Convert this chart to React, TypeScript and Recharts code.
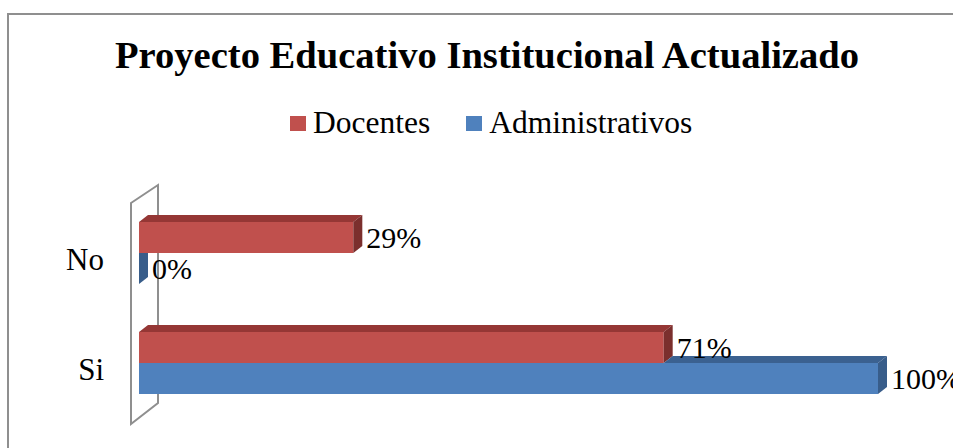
import React from "react";
import { BarChart, Bar, XAxis, YAxis, LabelList } from "recharts";

// values
const CATEGORIES = ["No", "Si"];
const DOCENTES = [29, 71];
const ADMINISTRATIVOS = [0, 100];
const X_TICKS = [0, 100];

const SERIES = [
  { key: "docentes", name: "Docentes", color: "#C0504D", top: "#953735", side: "#7B2F2D" },
  { key: "administrativos", name: "Administrativos", color: "#4F81BD", top: "#3B6190", side: "#385D8A" },
];

const data = CATEGORIES.map((cat, i) => ({
  cat,
  docentes: DOCENTES[i],
  administrativos: ADMINISTRATIVOS[i],
}));

const W = 953;
const H = 448;
const MARGIN = { top: 198, right: 75, bottom: 30, left: 39 };
const Y_W = 100;
const PLOT_LEFT = MARGIN.left + Y_W;
const PLOT_W = W - PLOT_LEFT - MARGIN.right;
const PLOT_BOTTOM = H - MARGIN.bottom;
const DX = 9;
const DY = 7;
const FONT = '"Liberation Serif", "Times New Roman", serif';
const GRAY = "#8f8f8f";

function Bar3D(props: any, s: any, coverKey?: string) {
  const { x, y, width, height, payload } = props;
  const value = payload[s.key];
  const ppu = PLOT_W / X_TICKS[1];
  const coverVal = coverKey ? payload[coverKey] : -1;
  const covered = coverKey ? coverVal >= value : false;
  const topStart = coverKey ? Math.max(x, x + coverVal * ppu) : x;
  const r = x + width;
  return (
    <g>
      <rect x={x} y={y} width={width} height={height} fill={s.color} />
      {topStart < r && (
        <polygon
          points={`${topStart},${y} ${topStart + DX},${y - DY} ${r + DX},${y - DY} ${r},${y}`}
          fill={s.top}
        />
      )}
      <polygon
        points={`${r},${y} ${r + DX},${covered ? y : y - DY} ${r + DX},${y + height - DY} ${r},${y + height}`}
        fill={s.side}
      />
    </g>
  );
}

function CatTick(props: any) {
  const { x, y, payload } = props;
  return (
    <text x={x} y={y + 17} textAnchor="end" fontSize={31} fontFamily={FONT} fill="#000">
      {payload.value}
    </text>
  );
}

export default function App() {
  const wallFront = PLOT_LEFT - 8;
  const wallBack = PLOT_LEFT + 19;
  return (
    <div
      style={{
        position: "absolute",
        left: 0,
        top: 0,
        width: W,
        height: H,
        overflow: "hidden",
        background: "#fff",
        fontFamily: FONT,
      }}
    >
      <svg width={W} height={H} style={{ position: "absolute", left: 0, top: 0 }}>
        <rect x={8} y={14} width={1100} height={600} fill="none" stroke={GRAY} strokeWidth={2} />
        <text x={487} y={68} textAnchor="middle" fontSize={38.6} fontWeight="bold" fontFamily={FONT}>
          Proyecto Educativo Institucional Actualizado
        </text>
        <polygon
          points={`${wallFront},${MARGIN.top + 5} ${wallBack},${MARGIN.top - 13} ${wallBack},${PLOT_BOTTOM - 15} ${wallFront},${PLOT_BOTTOM + 6}`}
          fill="none"
          stroke={GRAY}
          strokeWidth={2}
        />
      </svg>

      <div
        style={{
          position: "absolute",
          left: 290,
          top: 107,
          display: "flex",
          alignItems: "center",
          height: 32,
          fontSize: 31.5,
          lineHeight: "32px",
        }}
      >
        {SERIES.map((s) => (
          <div key={s.key} style={{ display: "flex", alignItems: "center", marginRight: 36 }}>
            <span style={{ width: 16, height: 15, background: s.color, marginRight: 7 }} />
            <span>{s.name}</span>
          </div>
        ))}
      </div>

      <div style={{ position: "absolute", left: 0, top: 0 }}>
        <BarChart
          width={W}
          height={H}
          data={data}
          layout="vertical"
          margin={MARGIN}
          barSize={31}
          barGap={0}
        >
          <XAxis type="number" domain={[X_TICKS[0], X_TICKS[1]]} hide />
          <YAxis
            type="category"
            dataKey="cat"
            width={Y_W}
            axisLine={false}
            tickLine={false}
            tickSize={0}
            tickMargin={35}
            tick={<CatTick />}
          />
          <Bar
            dataKey="docentes"
            name="Docentes"
            fill={SERIES[0].color}
            isAnimationActive={false}
            shape={(p: any) => Bar3D(p, SERIES[0])}
          >
            <LabelList
              dataKey="docentes"
              position="right"
              offset={13}
              formatter={(v: any) => `${v}%`}
              style={{ fontSize: 30, fontFamily: FONT, fill: "#000" }}
            />
          </Bar>
          <Bar
            dataKey="administrativos"
            name="Administrativos"
            fill={SERIES[1].color}
            isAnimationActive={false}
            shape={(p: any) => Bar3D(p, SERIES[1], "docentes")}
          >
            <LabelList
              dataKey="administrativos"
              position="right"
              offset={13}
              formatter={(v: any) => `${v}%`}
              style={{ fontSize: 30, fontFamily: FONT, fill: "#000" }}
            />
          </Bar>
        </BarChart>
      </div>
    </div>
  );
}
